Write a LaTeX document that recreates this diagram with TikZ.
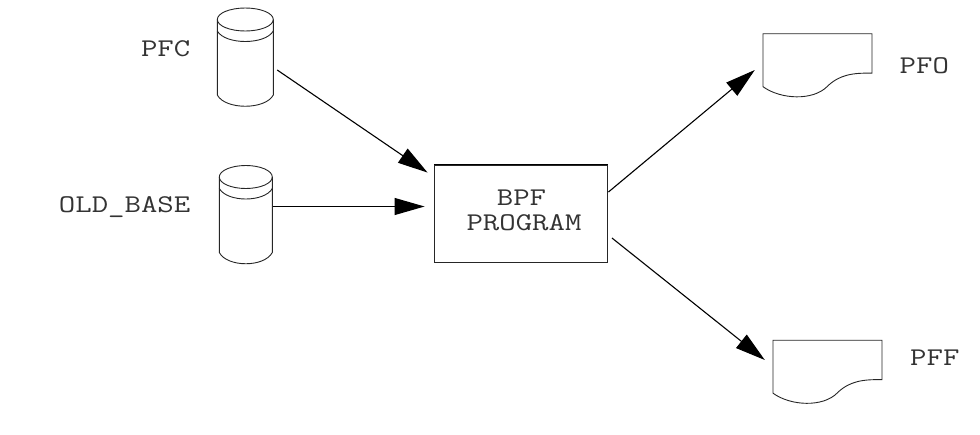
\documentclass[tikz,border=0pt]{standalone}
\usepackage{fontspec}
\usetikzlibrary{arrows.meta}
\newfontfamily\dgfont[FakeStretch=1.25]{Latin Modern Mono}
\tikzset{
  lbl/.style={font=\dgfont\fontsize{25.5pt}{26pt}\selectfont, inner sep=0pt, text=black!80},
  shp/.style={draw=black!85, line width=0.9pt},
  hold/.style={inner sep=0pt, minimum width=#1, minimum height=97pt},
  cyl/.style={shp},
  flow/.style={draw=black, line width=1.1pt, -{Triangle[length=30pt,width=17pt]}}
}
\newcommand{\dgcyl}[3]{% centre x, top y, half width
  \begin{scope}[shift={(#1,#2)}]
    \draw[cyl] (-#3,11.5) arc[start angle=180,end angle=-180,x radius=#3,y radius=11.5];
    \draw[cyl] (-#3,11.5) -- (-#3,87) .. controls (-#3+8,102) and (#3-8,102) .. (#3,87) -- (#3,11.5);
    \draw[cyl] (-#3,23) .. controls (-#3+8,37) and (#3-8,37) .. (#3,23);
  \end{scope}}
\newcommand{\dgdoc}[2]{%
  \begin{scope}[shift={(#1,#2)}]
    \draw[shp] (0,53) -- (0,0) -- (109,0) -- (109,39.5)
      .. controls (90,39) and (76,41) .. (64,53)
      .. controls (50,67) and (18,66) .. (0,53) -- cycle;
  \end{scope}}
\begin{document}
\begin{tikzpicture}[x=1pt,y=-1pt]
\useasboundingbox (0,0) rectangle (980,434);
\node[hold=57pt] (pfc) at (245.5,56.5) {};
\node[hold=53pt] (old) at (245.5,214) {};
\node[inner sep=0pt, minimum width=109pt, minimum height=63pt] (pfo) at (817.5,65) {};
\node[inner sep=0pt, minimum width=109pt, minimum height=63pt] (pff) at (827.5,371.5) {};
\dgcyl{245.3}{8}{28}
\dgcyl{245.8}{165.5}{26.5}
\dgdoc{763}{33.7}
\dgdoc{773}{340.2}
\node[shp, inner sep=0pt, minimum width=173pt, minimum height=97pt] (bpf) at (521,213.5) {};
\draw[black, line width=1.3pt] (bpf.north west) -- (bpf.north east);
\node[lbl] (bpft) at (521.5,197.5) {BPF};
\node[lbl] (progt) at (524,223) {PROGRAM};
\node[lbl, anchor=east] (pfcl) at (190.5,48.5) {PFC};
\node[lbl, anchor=east] (oldl) at (190.5,207) {OLD\_BASE};
\node[lbl, anchor=west] (pfol) at (899.5,66) {PFO};
\node[lbl, anchor=west] (pffl) at (910,357.5) {PFF};
\draw[flow] ([shift={(3,13.5)}]pfc.east) -- ([shift={(-6.5,8)}]bpf.north west);
\draw[flow] ([shift={(0.5,-7.5)}]old.east) -- ([shift={(-9.5,-7)}]bpf.west);
\draw[flow] ([shift={(0.5,-21.5)}]bpf.east) -- ([shift={(-8,5)}]pfo.west);
\draw[flow] ([shift={(4,24.5)}]bpf.east) -- ([shift={(-8,-11.5)}]pff.west);
\end{tikzpicture}
\end{document}
